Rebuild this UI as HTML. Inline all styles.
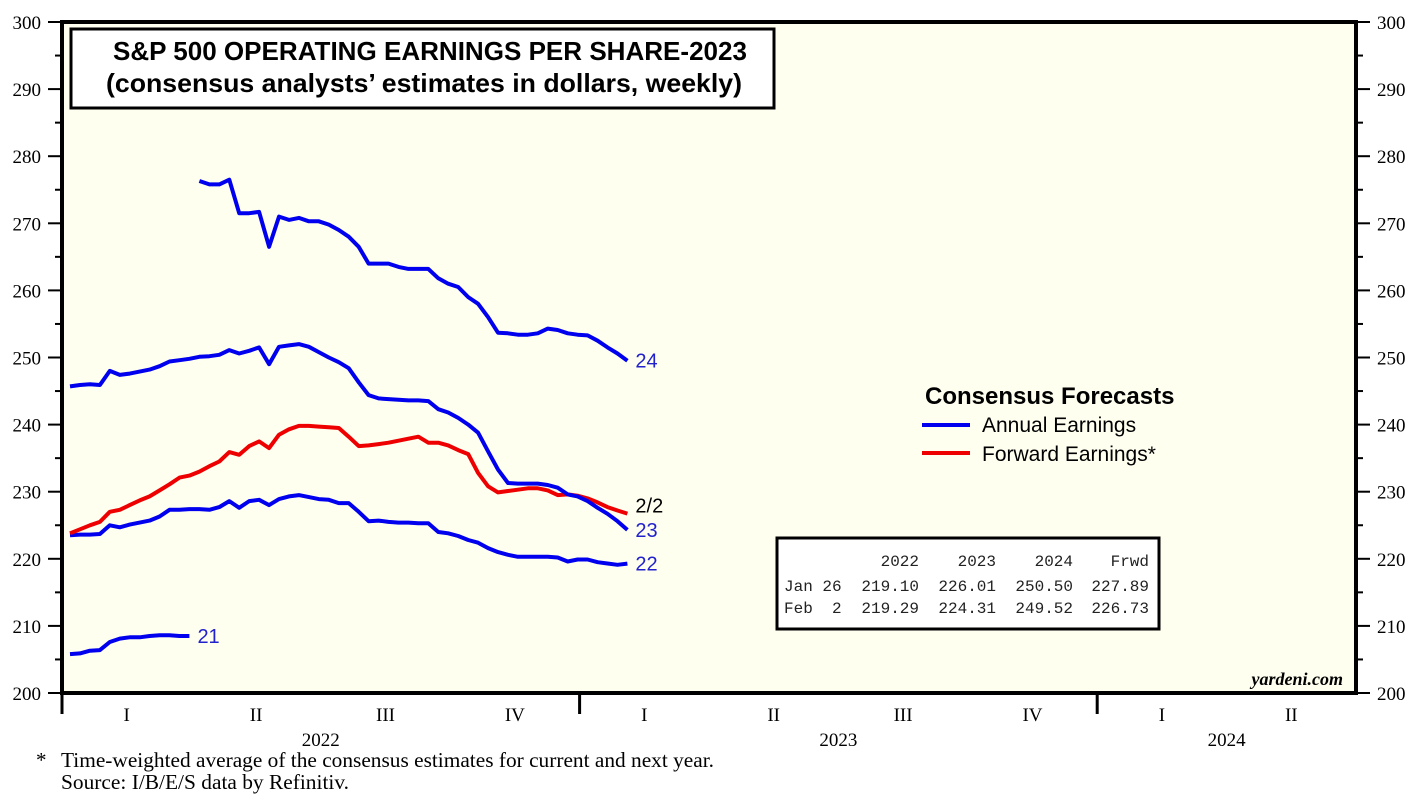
<!DOCTYPE html>
<html><head><meta charset="utf-8"><style>
body{margin:0;background:#fff;}
svg{display:block;font-family:"Liberation Serif",serif;}
text{white-space:pre;}
</style></head><body>
<svg id="chart" width="1427" height="796" viewBox="0 0 1427 796" xml:space="preserve">
<rect x="62" y="22" width="1294" height="671" fill="#fffff0"/>
<g id="yaxes"></g>
<g id="xaxis"></g>
<g id="series"></g>
<rect x="62" y="22" width="1294" height="671" fill="none" stroke="#000" stroke-width="4"/>
<g>
<rect x="71" y="29" width="703" height="79" fill="#fff" stroke="#000" stroke-width="3"/>
<text x="430" y="60" text-anchor="middle" font-family="Liberation Sans, sans-serif" font-weight="bold" font-size="26" textLength="634" lengthAdjust="spacingAndGlyphs">S&amp;P 500 OPERATING EARNINGS PER SHARE-2023</text>
<text x="424" y="92" text-anchor="middle" font-family="Liberation Sans, sans-serif" font-weight="bold" font-size="26" textLength="636" lengthAdjust="spacingAndGlyphs">(consensus analysts’ estimates in dollars, weekly)</text>
</g>
<g font-family="Liberation Sans, sans-serif">
<text x="925" y="404" font-weight="bold" font-size="24">Consensus Forecasts</text>
<line x1="922" y1="425" x2="970" y2="425" stroke="#0000ee" stroke-width="4"/>
<text x="982" y="432" font-size="21">Annual Earnings</text>
<line x1="922" y1="453" x2="970" y2="453" stroke="#ee0000" stroke-width="4"/>
<text x="982" y="461" font-size="21">Forward Earnings*</text>
</g>
<g font-family="Liberation Mono, monospace" font-size="16" fill="#222">
<rect x="777" y="538" width="382" height="91" fill="#fff" stroke="#000" stroke-width="3"/>
<text x="919" y="566" text-anchor="end">2022</text><text x="996" y="566" text-anchor="end">2023</text><text x="1073" y="566" text-anchor="end">2024</text><text x="1149" y="566" text-anchor="end">Frwd</text>
<text x="784" y="591">Jan 26</text><text x="919" y="591" text-anchor="end">219.10</text><text x="996" y="591" text-anchor="end">226.01</text><text x="1073" y="591" text-anchor="end">250.50</text><text x="1149" y="591" text-anchor="end">227.89</text>
<text x="784" y="613">Feb  2</text><text x="919" y="613" text-anchor="end">219.29</text><text x="996" y="613" text-anchor="end">224.31</text><text x="1073" y="613" text-anchor="end">249.52</text><text x="1149" y="613" text-anchor="end">226.73</text>
</g>
<text x="1343" y="685" text-anchor="end" font-style="italic" font-weight="bold" font-size="18">yardeni.com</text>
<text x="36" y="767" font-size="21">*</text>
<text x="61" y="767" font-size="21" textLength="653" lengthAdjust="spacingAndGlyphs">Time-weighted average of the consensus estimates for current and next year.</text>
<text x="61" y="789" font-size="21" textLength="288" lengthAdjust="spacingAndGlyphs">Source: I/B/E/S data by Refinitiv.</text>
</svg>
<script>
const yTicks=[200,210,220,230,240,250,260,270,280,290,300];
const quarterLabels=["I","II","III","IV","I","II","III","IV","I","II"];
const yearLabels=["2022","2023","2024"];
const e21=[205.8,205.9,206.3,206.4,207.6,208.1,208.3,208.3,208.5,208.6,208.6,208.5,208.5];
const e22=[223.5,223.6,223.6,223.7,225.0,224.7,225.1,225.4,225.7,226.3,227.3,227.3,227.4,227.4,227.3,227.7,228.6,227.6,228.6,228.8,228.0,228.9,229.3,229.5,229.2,228.9,228.8,228.3,228.3,227.0,225.6,225.7,225.5,225.4,225.4,225.3,225.3,224.0,223.8,223.4,222.8,222.4,221.6,221.0,220.6,220.3,220.3,220.3,220.3,220.2,219.6,219.9,219.9,219.5,219.3,219.1,219.29];
const e23=[245.7,245.9,246.0,245.9,248.0,247.4,247.6,247.9,248.2,248.7,249.4,249.6,249.8,250.1,250.2,250.4,251.1,250.6,251.0,251.5,249.0,251.6,251.8,252.0,251.6,250.8,250.0,249.3,248.4,246.3,244.4,243.9,243.8,243.7,243.6,243.6,243.5,242.3,241.8,241.0,240.0,238.8,236.0,233.3,231.3,231.2,231.2,231.2,231.0,230.6,229.6,229.3,228.6,227.6,226.7,225.6,224.31];
const e24=[276.3,275.8,275.8,276.5,271.5,271.5,271.7,266.5,271.0,270.5,270.8,270.3,270.3,269.8,269.0,268.0,266.5,264.0,264.0,264.0,263.5,263.2,263.2,263.2,261.8,261.0,260.5,259.0,258.0,256.0,253.7,253.6,253.4,253.4,253.6,254.3,254.1,253.6,253.4,253.3,252.5,251.5,250.6,249.52];
const e24Start=13;
const fwd=[223.8,224.4,225.0,225.5,227.0,227.3,228.0,228.7,229.3,230.2,231.1,232.1,232.4,233.0,233.8,234.5,235.9,235.5,236.8,237.5,236.5,238.5,239.3,239.8,239.8,239.7,239.6,239.5,238.2,236.8,236.9,237.1,237.3,237.6,237.9,238.2,237.3,237.3,236.9,236.2,235.6,232.8,230.8,229.9,230.1,230.3,230.5,230.5,230.2,229.5,229.6,229.4,229.0,228.4,227.7,227.2,226.73];

const NS="http://www.w3.org/2000/svg";
const X0=62,X1=1356,Y0=693,Y1=22;
const yS=v=>Y0-(v-200)/(300-200)*(Y0-Y1);
const qW=(X1-X0)/10;
const xW=i=>70+i*(qW*4/52);
function mk(tag,attrs,parent){const el=document.createElementNS(NS,tag);for(const k in attrs)el.setAttribute(k,attrs[k]);parent.appendChild(el);return el;}
const ya=document.getElementById('yaxes');
yTicks.forEach(v=>{
  const y=yS(v);
  [[X0-14,X0],[X1,X1+14]].forEach(p=>mk('line',{x1:p[0],x2:p[1],y1:y,y2:y,stroke:'#000','stroke-width':2},ya));
  const t1=mk('text',{x:41,y:y+7,'text-anchor':'end','font-size':19},ya);t1.textContent=v;
  
  
  const t2=mk('text',{x:1377,y:y+7,'font-size':19},ya);t2.textContent=v;
  
  
  if(v<300){const ym=yS(v+5);
    mk('line',{x1:X0-7,x2:X0,y1:ym,y2:ym,stroke:'#000','stroke-width':2},ya);
    mk('line',{x1:X1,x2:X1+7,y1:ym,y2:ym,stroke:'#000','stroke-width':2},ya);}
});
const xa=document.getElementById('xaxis');
[0,4,8].forEach(q=>mk('line',{x1:X0+q*qW,x2:X0+q*qW,y1:Y0,y2:714,stroke:'#000','stroke-width':3},xa));
quarterLabels.forEach((l,i)=>{const t=mk('text',{x:X0+(i+0.5)*qW,y:721,'text-anchor':'middle','font-size':19},xa);t.textContent=l;
  
  });
yearLabels.forEach((l,i)=>{const c=i<2?X0+(i*4+2)*qW:X0+9*qW;const t=mk('text',{x:c,y:746,'text-anchor':'middle','font-size':19},xa);t.textContent=l;
  
  });
const sg=document.getElementById('series');
function line(arr,start,color,name,label,lc,dy){
  const pts=arr.map((v,i)=>xW(i+start).toFixed(1)+','+yS(v).toFixed(1)).join(' ');
  const p=mk('polyline',{points:pts,fill:'none',stroke:color,'stroke-width':4,'stroke-linejoin':'round'},sg);
  
  
  if(label){const n=arr.length-1;const t=mk('text',{x:xW(n+start)+8,y:yS(arr[n])+7+dy,'font-size':20,'font-family':'Liberation Sans, sans-serif',fill:lc},sg);t.textContent=label;
    
    }
}
line(e21,0,'#0000ee','series-2021','21','#2222cc',0);
line(e22,0,'#0000ee','series-2022','22','#2222cc',0);
line(fwd,0,'#ee0000','series-forward','2/2','#000',-8);
line(e23,0,'#0000ee','series-2023','23','#2222cc',0);
line(e24,e24Start,'#0000ee','series-2024','24','#2222cc',0);
</script>
</body></html>
